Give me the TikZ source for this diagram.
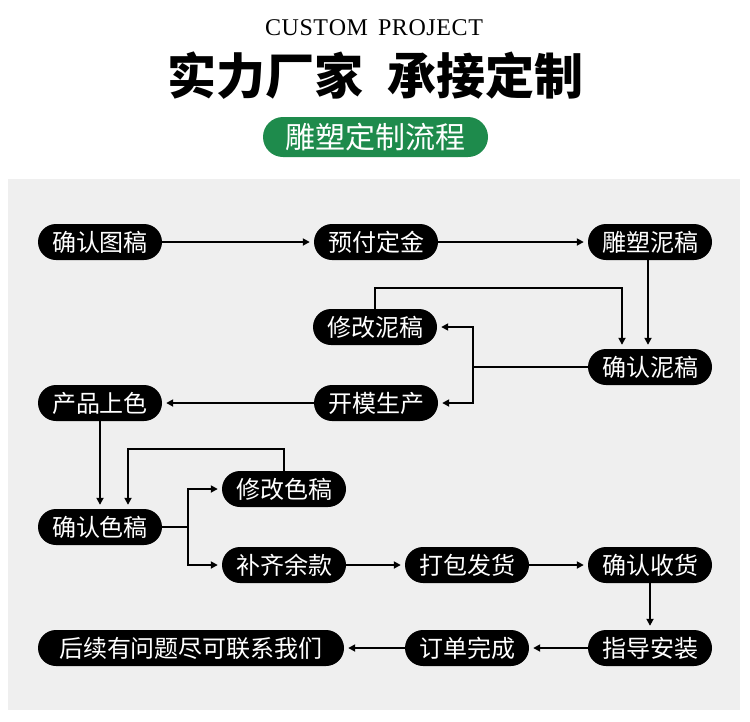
\documentclass[tikz,border=0pt]{standalone}
\usepackage{fontspec}
\newfontfamily\cjk{Noto Sans CJK SC}
\newfontfamily\titlefont{Liberation Serif}
\usetikzlibrary{arrows.meta,shapes.misc}
\definecolor{panel}{RGB}{239,239,239}
\definecolor{pillgreen}{RGB}{30,139,76}
\begin{document}
\begin{tikzpicture}[x=1pt,y=-1pt,
  pill/.style={rounded rectangle, fill=black, text=white, minimum height=36pt,
    minimum width=124pt, inner sep=0pt, font=\cjk\fontsize{24}{24}\selectfont},
  conn/.style={line width=1.7pt, draw=black},
  arr/.style={conn, -{Triangle[length=7pt,width=7pt]}, shorten >=4pt}]
\useasboundingbox (0,0) rectangle (750,721);
\fill[white] (0,0) rectangle (750,721);
\fill[panel] (8,179) rectangle (740,710);
% header
\node[font=\titlefont\fontsize{24}{24}\selectfont] (title) at (374,28) {C\kern0.6ptU\kern0.6ptS\kern0.6ptT\kern0.6ptO\kern0.6ptM\ \,P\kern0.6ptR\kern0.6ptO\kern0.6ptJ\kern0.6ptE\kern0.6ptC\kern0.6ptT};
\node[font=\cjk\bfseries\fontsize{49}{49}\selectfont, inner sep=0pt] (head) at (375.5,76) {实力厂家\hspace{24pt}承接定制};
\node[rounded rectangle, fill=pillgreen, text=white, minimum width=225pt, minimum height=40pt,
  inner sep=0pt, font=\cjk\fontsize{30}{30}\selectfont] (sub) at (375.5,137) {雕塑定制流程};
% nodes
\node[pill] (a1) at (100,242) {确认图稿};
\node[pill] (a2) at (376,242) {预付定金};
\node[pill] (a3) at (650,242) {雕塑泥稿};
\node[pill] (b1) at (375,327) {修改泥稿};
\node[pill] (b2) at (650,367) {确认泥稿};
\node[pill] (c1) at (100,403) {产品上色};
\node[pill] (c2) at (376,403) {开模生产};
\node[pill] (d1) at (284,489) {修改色稿};
\node[pill] (d2) at (100,527) {确认色稿};
\node[pill] (e1) at (284,565) {补齐余款};
\node[pill] (e2) at (467,565) {打包发货};
\node[pill] (e3) at (650,565) {确认收货};
\node[pill, minimum width=306pt] (f1) at (191,648) {后续有问题尽可联系我们};
\node[pill] (f2) at (467,648) {订单完成};
\node[pill] (f3) at (650,648) {指导安装};
% junctions
\coordinate (k1) at (622,288);
\coordinate (j1) at (473,367);
\coordinate (k2) at (128,449);
\coordinate (j2) at (188,527);
% connectors
\draw[arr] (a1) -- (a2);
\draw[arr] (a2) -- (a3);
\draw[arr] ([xshift=-2pt]a3.south) -- ([xshift=-2pt]a3.south |- b2.north);
\draw[arr] (b1.north) |- (k1) -- (k1 |- b2.north);
\draw[conn] (b2.west) -- (j1);
\draw[arr] (j1) |- (b1.east);
\draw[arr] (j1) |- (c2.east);
\draw[arr] (c2) -- (c1);
\draw[arr] (c1) -- (d2);
\draw[arr] (d1.north) |- (k2) -- (k2 |- d2.north);
\draw[conn] (d2.east) -- (j2);
\draw[arr] (j2) |- (d1.west);
\draw[arr] (j2) |- (e1.west);
\draw[arr] (e1) -- (e2);
\draw[arr] (e2) -- (e3);
\draw[arr] (e3) -- (f3);
\draw[arr] (f3) -- (f2);
\draw[arr] (f2) -- (f1);
\end{tikzpicture}
\end{document}
